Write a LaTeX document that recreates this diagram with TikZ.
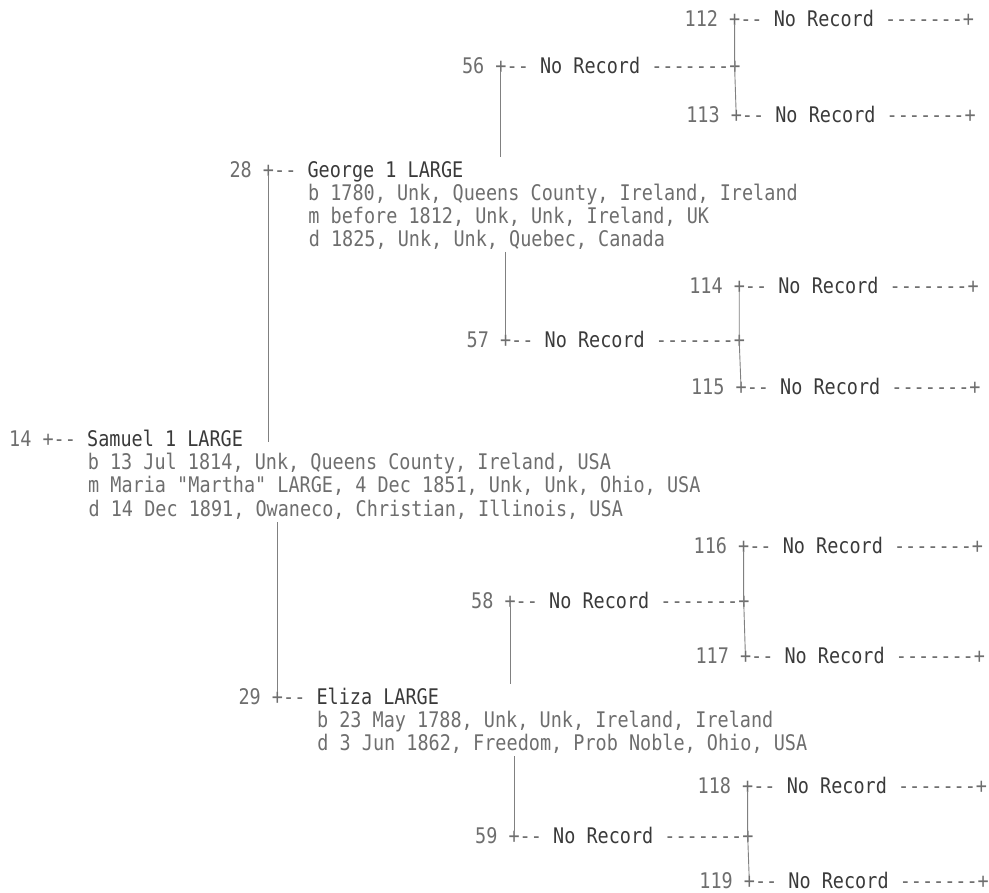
\documentclass[tikz,border=0pt]{standalone}
\usepackage{fontspec}
\usepackage{xcolor}
\usepackage{tikz}
\newfontfamily\chartfont[FakeStretch=0.86, Ligatures=TeXOff]{DejaVu Sans Mono}
\definecolor{chartInk}{HTML}{6E6E6E}
\definecolor{chartName}{HTML}{3A3A3A}
\definecolor{chartLine}{HTML}{808080}
\newcommand{\nm}[1]{\textcolor{chartName}{#1}}

\begin{document}
\begin{tikzpicture}[x=1pt, y=-1pt,
    rec/.style={anchor=west, inner sep=0pt, text height=15.6pt, text depth=0pt,
      font=\chartfont\fontsize{21.5}{23}\selectfont, text=chartInk},
    link/.style={draw=chartLine, line width=0.9pt, shorten <=5pt, shorten >=5pt}
  ]
  \useasboundingbox (0,0) rectangle (989,893);

  % === Generation 4 (upper half) ===
  \node[rec] (p112) at (684.5,19) {112 +-- \nm{No Record} -------+};
  \node[rec] (p56) at (461.9,66) {56 +-- \nm{No Record} -------+};
  \node[rec] (p113) at (686.1,115) {113 +-- \nm{No Record} -------+};
  \node[rec] (p114) at (689.1,286) {114 +-- \nm{No Record} -------+};
  \node[rec] (p57) at (466.5,340) {57 +-- \nm{No Record} -------+};
  \node[rec] (p115) at (690.9,387) {115 +-- \nm{No Record} -------+};

  % === George ===
  \node[rec] (p28) at (229.4,170) {28 +-- \nm{George 1 LARGE}};
  \node[rec] (b28) at (307.8,193) {b 1780, Unk, Queens County, Ireland, Ireland};
  \node[rec] (m28) at (308.2,216) {m before 1812, Unk, Unk, Ireland, UK};
  \node[rec] (d28) at (308.6,239) {d 1825, Unk, Unk, Quebec, Canada};

  % === Samuel ===
  \node[rec] (p14) at (9.0,439) {14 +-- \nm{Samuel 1 LARGE}};
  \node[rec] (b14) at (87.6,462) {b 13 Jul 1814, Unk, Queens County, Ireland, USA};
  \node[rec] (m14) at (88.0,485) {m Maria "Martha" LARGE, 4 Dec 1851, Unk, Unk, Ohio, USA};
  \node[rec] (d14) at (88.4,509) {d 14 Dec 1891, Owaneco, Christian, Illinois, USA};

  % === Generation 4 (lower half) ===
  \node[rec] (p116) at (693.5,546) {116 +-- \nm{No Record} -------+};
  \node[rec] (p58) at (471.0,601) {58 +-- \nm{No Record} -------+};
  \node[rec] (p117) at (695.3,656) {117 +-- \nm{No Record} -------+};
  \node[rec] (p118) at (697.5,786) {118 +-- \nm{No Record} -------+};
  \node[rec] (p59) at (475.0,836) {59 +-- \nm{No Record} -------+};
  \node[rec] (p119) at (699.2,881) {119 +-- \nm{No Record} -------+};

  % === Eliza ===
  \node[rec] (p29) at (238.4,697) {29 +-- \nm{Eliza LARGE}};
  \node[rec] (b29) at (316.8,720) {b 23 May 1788, Unk, Unk, Ireland, Ireland};
  \node[rec] (d29) at (317.2,743) {d 3 Jun 1862, Freedom, Prob Noble, Ohio, USA};

  % junctions on the "+" signs
  \coordinate (j28) at ([xshift=39pt]p28.west);
  \coordinate (j29) at ([xshift=39pt]p29.west);
  \coordinate (j56) at ([xshift=39pt]p56.west);
  \coordinate (j57) at ([xshift=39pt]p57.west);
  \coordinate (j58) at ([xshift=39pt]p58.west);
  \coordinate (j59) at ([xshift=39pt]p59.west);
  \coordinate (e56) at ([xshift=272.7pt]p56.west);
  \coordinate (e57) at ([xshift=272.7pt]p57.west);
  \coordinate (e58) at ([xshift=272.7pt]p58.west);
  \coordinate (e59) at ([xshift=272.7pt]p59.west);
  \coordinate (j112) at ([xshift=50.1pt]p112.west);
  \coordinate (j113) at ([xshift=50.1pt]p113.west);
  \coordinate (j114) at ([xshift=50.1pt]p114.west);
  \coordinate (j115) at ([xshift=50.1pt]p115.west);
  \coordinate (j116) at ([xshift=50.1pt]p116.west);
  \coordinate (j117) at ([xshift=50.1pt]p117.west);
  \coordinate (j118) at ([xshift=50.1pt]p118.west);
  \coordinate (j119) at ([xshift=50.1pt]p119.west);

  % parents of Samuel
  \draw[link] (j28) -- (j28 |- p14.south);
  \draw[link] (j29 |- d14.south) -- (j29);
  % parents of George and Eliza
  \draw[link] (j56) -- (j56 |- p28.north);
  \draw[link] (j57 |- d28.south) -- (j57);
  \draw[link] (j58) -- (j58 |- p29.north);
  \draw[link] (j59 |- d29.south) -- (j59);
  % last column
  \draw[link] (j112) -- (e56) -- (j113);
  \draw[link] (j114) -- (e57) -- (j115);
  \draw[link] (j116) -- (e58) -- (j117);
  \draw[link] (j118) -- (e59) -- (j119);
\end{tikzpicture}
\end{document}
